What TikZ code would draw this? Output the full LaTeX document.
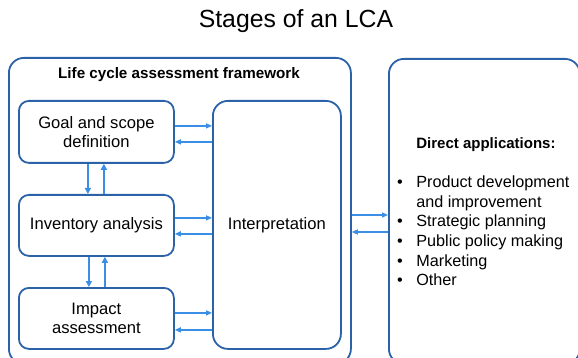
\documentclass[tikz,border=0pt]{standalone}
\usepackage{fontspec}
\setmainfont{Liberation Sans}
\usetikzlibrary{arrows.meta,calc}
\definecolor{frameblue}{HTML}{2C62A8}
\definecolor{arrowblue}{HTML}{3A8EE6}
\begin{document}
\begin{tikzpicture}[x=1pt,y=-1pt,
  every node/.style={font=\fontsize{16.6}{19.6}\selectfont, text=black},
  box/.style={draw=frameblue, line width=1.8pt, rounded corners=10pt, inner sep=0pt, align=center},
  bigbox/.style={draw=frameblue, line width=1.8pt, rounded corners=15pt, inner sep=0pt},
  arr/.style={draw=arrowblue, line width=1.3pt, -{Triangle[length=6pt,width=5pt]}},
  varr/.style={draw=arrowblue, line width=1.8pt, -{Triangle[length=6pt,width=6pt]}}]
\useasboundingbox (0,0) rectangle (578,358);
\fill[white] (0,0) rectangle (578,358);

% title
\node (title) at (296,21) {\fontsize{24.8}{28}\selectfont Stages of an LCA};

% outer framework and applications boxes (bottoms run past the page edge)
\node[bigbox, minimum width=342pt, minimum height=306pt, anchor=north west] (frame) at (8,57) {};
\node[bigbox, minimum width=191pt, minimum height=305pt, anchor=north west] (apps) at (388,58) {};
\node[font=\fontsize{15.2}{17}\selectfont\bfseries] (frametitle) at (179,75) {Life cycle assessment framework};

% stage boxes
\node[box, minimum width=155pt, minimum height=62pt, anchor=north west] (goal) at (18,100) {Goal and scope\\definition};
\node[box, minimum width=155pt, minimum height=61pt, anchor=north west] (inv) at (18,194) {Inventory analysis};
\node[box, minimum width=155pt, minimum height=61pt, anchor=north west] (imp) at (18,287) {Impact\\assessment};
\node[box, rounded corners=15pt, minimum width=128pt, minimum height=248pt, anchor=north west] (interp) at (212,100) {Interpretation};

% stages <-> interpretation
\draw[arr] ([yshift=6pt]goal.east) -- ([yshift=6pt]goal.east -| interp.west);
\draw[arr] ([yshift=-10pt]goal.east -| interp.west) -- ([yshift=-10pt]goal.east);
\draw[arr] ([yshift=7.5pt]inv.east) -- ([yshift=7.5pt]inv.east -| interp.west);
\draw[arr] ([yshift=-8.5pt]inv.east -| interp.west) -- ([yshift=-8.5pt]inv.east);
\draw[arr] ([yshift=5.5pt]imp.east) -- ([yshift=5.5pt]imp.east -| interp.west);
\draw[arr] ([yshift=-11.5pt]imp.east -| interp.west) -- ([yshift=-11.5pt]imp.east);

% stage to stage
\draw[varr] ([xshift=-8.5pt]goal.south) -- ([xshift=-8.5pt]goal.south |- inv.north);
\draw[varr] ([xshift=7.5pt]goal.south |- inv.north) -- ([xshift=7.5pt]goal.south);
\draw[varr] ([xshift=-7.5pt]inv.south) -- ([xshift=-7.5pt]inv.south |- imp.north);
\draw[varr] ([xshift=8.5pt]inv.south |- imp.north) -- ([xshift=8.5pt]inv.south);

% framework <-> applications
\draw[arr] (frame.east |- 0,215) -- (apps.west |- 0,215);
\draw[arr] (apps.west |- 0,232) -- (frame.east |- 0,232);

% applications list
\node[anchor=base west, inner sep=0pt, font=\fontsize{16.2}{19.6}\selectfont] (applist) at (397,148.5) {%
  \begin{tabular}[t]{@{}l@{\hspace{13.5pt}}l@{}}
   & \textbf{\fontsize{15}{19.6}\selectfont Direct applications:}\\[19.6pt]
  • & Product development\\
    & and improvement\\
  • & Strategic planning\\
  • & Public policy making\\
  • & Marketing\\
  • & Other
  \end{tabular}};
\end{tikzpicture}
\end{document}
